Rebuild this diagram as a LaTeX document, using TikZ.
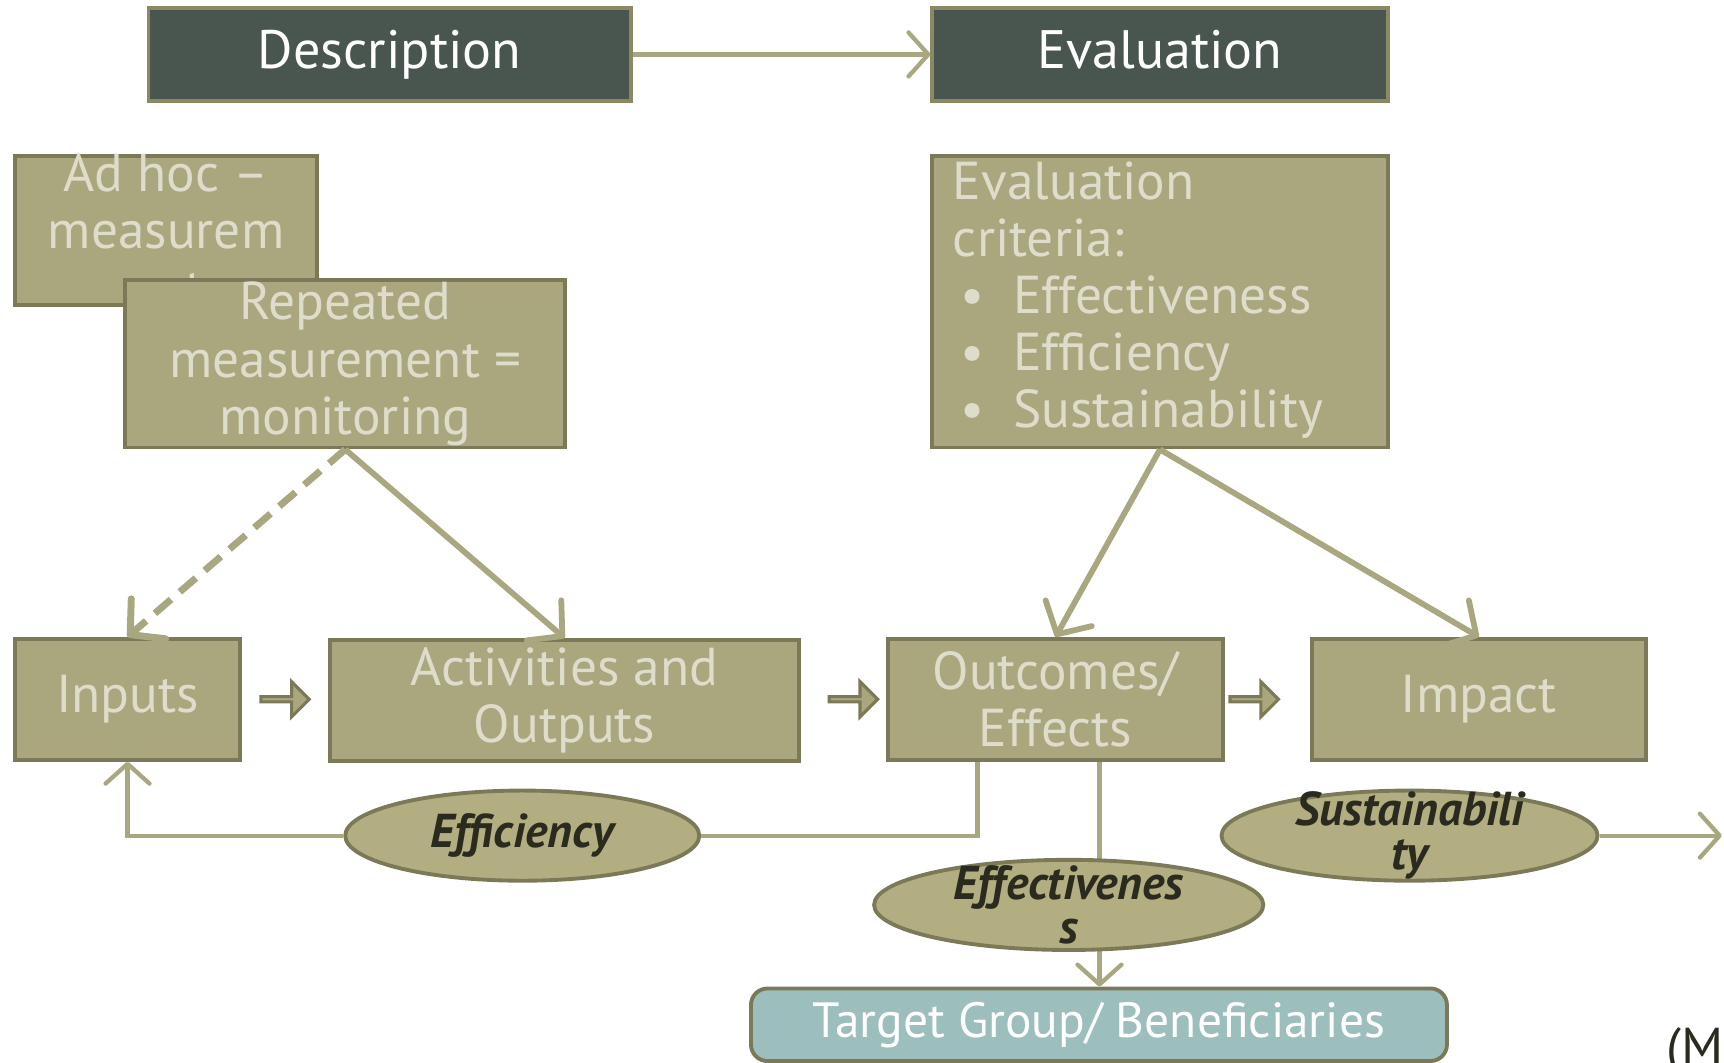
\documentclass[tikz,border=0pt]{standalone}
\usepackage{fontspec}
\setmainfont{PT Sans}
\usetikzlibrary{arrows.meta,shapes.geometric,shapes.arrows}
\definecolor{hdrfill}{HTML}{49554F}
\definecolor{hdrline}{HTML}{8B8963}
\definecolor{boxfill}{HTML}{AAA67E}
\definecolor{boxline}{HTML}{7B7957}
\definecolor{boxtext}{HTML}{DEDCCA}
\definecolor{ovalfill}{HTML}{B2AE81}
\definecolor{ovaltext}{HTML}{2B2A1F}
\definecolor{tgtfill}{HTML}{9CBEBD}
\definecolor{conline}{HTML}{A9A77F}
\tikzset{%
   hdr/.style={draw=hdrline, fill=hdrfill, text=white, line width=1pt, inner sep=0pt,
      minimum height=0.85cm, text height=0.95em, text depth=0.22em, font=\fontsize{14}{15}\selectfont},
   box/.style={draw=boxline, fill=boxfill, text=boxtext, line width=1pt, inner sep=0pt,
      align=center, font=\fontsize{13.8}{14.8}\selectfont},
   boxtxt/.style={text=boxtext, inner sep=0pt, align=center, font=\fontsize{13.8}{14.8}\selectfont},
   oval/.style={ellipse, draw=boxline, fill=ovalfill, line width=1pt, inner sep=0pt, minimum height=0.82cm},
   ovaltxt/.style={text=ovaltext, inner sep=0pt, align=center,
      font=\fontsize{12.3}{11.5}\selectfont\bfseries\itshape},
   blk/.style={single arrow, draw=boxline, fill=boxfill, line width=0.8pt, inner sep=0pt,
      minimum width=0.32cm, minimum height=0.44cm, single arrow head extend=0.08cm},
   con/.style={draw=conline, line width=1.1pt, -{Straight Barb[length=1.8mm,width=4mm,round]}},
   thick con/.style={draw=conline, line width=1.5pt, -{Straight Barb[length=2.2mm,width=4.8mm,round]}},
}

\begin{document}
\begin{tikzpicture}
      \useasboundingbox (0,0) rectangle (15.68,-9.66);
      \node[hdr, minimum width=4.39cm] (desc) at (3.545,-0.495) {Description};
      \node[hdr, minimum width=4.14cm] (eval) at (10.55,-0.495) {Evaluation};
      \draw[con] (desc) -- (eval);

      \node[box, minimum width=2.74cm, minimum height=1.35cm] (adhoc) at (1.51,-2.095) {};
      \node[boxtxt] (adhoc-t) at (adhoc) {Ad hoc –\\measurem\\ent};
      \node[box, minimum width=4cm, minimum height=1.52cm] (rep) at (3.14,-3.31) {};
      \node[boxtxt] (rep-t) at (rep) {Repeated\\measurement =\\monitoring};
      \node[box, minimum width=4.14cm, minimum height=2.65cm] (crit) at (10.55,-2.745) {};
      \node[boxtxt, align=left, anchor=north west] (crit-t) at (8.66,-1.46) {Evaluation\\criteria:\\
         \hspace*{0.07cm}\makebox[0.48cm][l]{•}Effectiveness\\
         \hspace*{0.07cm}\makebox[0.48cm][l]{•}Efficiency\\
         \hspace*{0.07cm}\makebox[0.48cm][l]{•}Sustainability};

      \node[box, minimum width=2.04cm, minimum height=1.1cm] (inp) at (1.16,-6.36) {Inputs};
      \node[box, minimum width=4.27cm, minimum height=1.1cm] (act) at (5.135,-6.37) {Activities and\\Outputs};
      \node[box, minimum width=3.04cm, minimum height=1.1cm] (out) at (9.6,-6.36) {Outcomes/\\Effects};
      \node[box, minimum width=3.04cm, minimum height=1.1cm] (imp) at (13.45,-6.36) {Impact};
      \node[blk] (b1) at (2.58,-6.36) {};
      \node[blk] (b2) at (7.75,-6.36) {};
      \node[blk] (b3) at (11.395,-6.36) {};

      \draw[thick con, line width=1.8pt, dash pattern=on 5.5pt off 3pt] (rep.south) -- (inp.north);
      \draw[thick con] (rep.south) -- (act.north);
      \draw[thick con] (crit.south) -- (out.north);
      \draw[thick con] (crit.south) -- (imp.north);

      \node[oval, minimum width=3.22cm] (eff) at (4.75,-7.6) {};
      \node[ovaltxt] (eff-t) at (eff) {Efficiency};
      \draw[con, -] ([xshift=-0.71cm]out.south) |- (eff.east);
      \draw[con] (eff.west) -| (inp.south);

      \node[draw=boxline, fill=tgtfill, text=white, line width=1pt, rounded corners=0.15cm,
         minimum width=6.33cm, minimum height=0.66cm, inner sep=0pt,
         font=\fontsize{12.8}{14.8}\selectfont] (tgt) at (9.995,-9.32) {Target Group/ Beneficiaries};
      \draw[con] ([xshift=0.4cm]out.south) -- ([xshift=0.4cm]out.south |- tgt.north);
      \node[oval, minimum width=3.54cm] (efv) at (9.72,-8.23) {};
      \node[ovaltxt] (efv-t) at (efv) {Effectivenes\\s};

      \node[oval, minimum width=3.42cm] (sus) at (12.82,-7.6) {};
      \node[ovaltxt] (sus-t) at (sus) {Sustainabili\\ty};
      \coordinate (sus-end) at (15.66,-7.6);
      \draw[con] (sus.east) -- (sus-end);

      \node[text=ovaltext, inner sep=0pt, anchor=base west, font=\fontsize{13.8}{14.8}\selectfont] (src) at (15.15,-9.69) {(M};
   \end{tikzpicture}
\end{document}
